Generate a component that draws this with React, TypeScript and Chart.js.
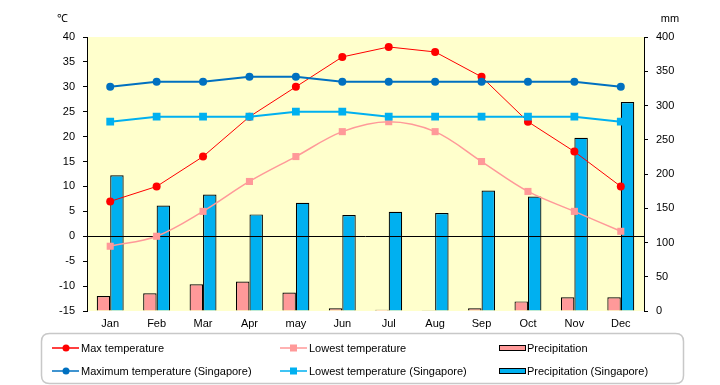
import React, { useEffect, useRef } from 'react';
import { Chart, registerables } from 'chart.js';

Chart.register(...registerables);

const months = ['Jan', 'Feb', 'Mar', 'Apr', 'may', 'Jun', 'Jul', 'Aug', 'Sep', 'Oct', 'Nov', 'Dec'];
const maxTemp = [7, 10, 16, 24, 30, 36, 38, 37, 32, 23, 17, 10];
const lowTemp = [-2, 0, 5, 11, 16, 21, 23, 21, 15, 9, 5, 1];
const precip = [22, 26, 39, 43, 27, 4, 2, 1, 4, 14, 20, 20];
const maxTempSg = [30, 31, 31, 32, 32, 31, 31, 31, 31, 31, 31, 30];
const lowTempSg = [23, 24, 24, 24, 25, 25, 24, 24, 24, 24, 24, 23];
const precipSg = [198, 154, 170, 141, 158, 140, 145, 143, 176, 167, 253, 305];
const tempRange = [-15, 40];
const precipRange = [0, 400];
const tempUnit = '℃';
const precipUnit = 'mm';

const FONT = 'Liberation Sans, Arial, sans-serif';
const C_RED = '#FF0000';
const C_PINK = '#FF9999';
const C_DBLUE = '#0070C0';
const C_LBLUE = '#00B0F0';

const legendItems = [
  { label: 'Max temperature', kind: 'line', color: C_RED, marker: 'circle', col: 0, row: 0 },
  { label: 'Lowest temperature', kind: 'line', color: C_PINK, marker: 'rect', col: 1, row: 0 },
  { label: 'Precipitation', kind: 'bar', color: C_PINK, col: 2, row: 0 },
  { label: 'Maximum temperature (Singapore)', kind: 'line', color: C_DBLUE, marker: 'circle', col: 0, row: 1 },
  { label: 'Lowest temperature (Singapore)', kind: 'line', color: C_LBLUE, marker: 'rect', col: 1, row: 1 },
  { label: 'Precipitation (Singapore)', kind: 'bar', color: C_LBLUE, col: 2, row: 1 },
];

function roundRect(ctx: CanvasRenderingContext2D, x: number, y: number, w: number, h: number, r: number) {
  ctx.beginPath();
  ctx.moveTo(x + r, y);
  ctx.lineTo(x + w - r, y);
  ctx.quadraticCurveTo(x + w, y, x + w, y + r);
  ctx.lineTo(x + w, y + h - r);
  ctx.quadraticCurveTo(x + w, y + h, x + w - r, y + h);
  ctx.lineTo(x + r, y + h);
  ctx.quadraticCurveTo(x, y + h, x, y + h - r);
  ctx.lineTo(x, y + r);
  ctx.quadraticCurveTo(x, y, x + r, y);
  ctx.closePath();
}

const customPlugin = {
  id: 'custom',
  beforeDraw(chart: any) {
    const { ctx, chartArea } = chart;
    ctx.save();
    ctx.fillStyle = '#FFFFCC';
    ctx.fillRect(chartArea.left, chartArea.top, chartArea.right - chartArea.left, chartArea.bottom - chartArea.top);
    ctx.restore();
  },
  afterDatasetDraw(chart: any, args: any) {
    const ds = chart.data.datasets[args.index];
    if (ds.label === 'Precipitation') {
      const { ctx, chartArea } = chart;
      const y = Math.round(chart.scales.y.getPixelForValue(0)) + 0.5;
      ctx.save();
      ctx.strokeStyle = '#000';
      ctx.lineWidth = 1;
      ctx.beginPath();
      ctx.moveTo(chartArea.left, y);
      ctx.lineTo(chartArea.right, y);
      ctx.stroke();
      ctx.restore();
    }
  },
  afterDraw(chart: any) {
    const { ctx } = chart;
    ctx.save();
    ctx.fillStyle = '#000';
    ctx.font = `11px ${FONT}`;
    ctx.textBaseline = 'middle';
    ctx.textAlign = 'center';
    ctx.fillText(tempUnit, 62, 19);
    ctx.fillText(precipUnit, 670, 19);

    // legend box
    ctx.strokeStyle = '#C8C8C8';
    ctx.lineWidth = 1.5;
    roundRect(ctx, 41.5, 333.5, 642, 50, 8);
    ctx.stroke();

    const colX = [52, 280, 499];
    const rowY = [348, 371];
    ctx.textAlign = 'left';
    legendItems.forEach((it) => {
      const x = colX[it.col];
      const y = rowY[it.row];
      if (it.kind === 'line') {
        ctx.strokeStyle = it.color;
        ctx.lineWidth = 1.5;
        ctx.beginPath();
        ctx.moveTo(x, y);
        ctx.lineTo(x + 27, y);
        ctx.stroke();
        ctx.fillStyle = it.color;
        if (it.marker === 'circle') {
          ctx.beginPath();
          ctx.arc(x + 14, y, 3.5, 0, Math.PI * 2);
          ctx.fill();
        } else {
          ctx.fillRect(x + 10, y - 3.5, 7, 7);
        }
        ctx.fillStyle = '#000';
        ctx.fillText(it.label, x + 29, y + 1);
      } else {
        ctx.fillStyle = it.color;
        ctx.fillRect(x, y - 2.5, 26, 5);
        ctx.strokeStyle = '#000';
        ctx.lineWidth = 1;
        ctx.strokeRect(x + 0.5, y - 2.5, 26, 5);
        ctx.fillStyle = '#000';
        ctx.fillText(it.label, x + 28, y + 1);
      }
    });
    ctx.restore();
  },
};

export default function App() {
  const ref = useRef<HTMLCanvasElement>(null);
  useEffect(() => {
    document.body.style.margin = '0';
    const canvas = ref.current;
    if (!canvas) return;
    const tickFont = { family: FONT, size: 11 };
    const chart = new Chart(canvas, {
      type: 'bar',
      data: {
        labels: months,
        datasets: [
          {
            type: 'line', label: 'Maximum temperature (Singapore)', data: maxTempSg, yAxisID: 'y',
            borderColor: C_DBLUE, backgroundColor: C_DBLUE, borderWidth: 2, pointStyle: 'circle',
            pointRadius: 4, pointBorderWidth: 0, tension: 0, order: 1,
          },
          {
            type: 'line', label: 'Lowest temperature (Singapore)', data: lowTempSg, yAxisID: 'y',
            borderColor: C_LBLUE, backgroundColor: C_LBLUE, borderWidth: 2, pointStyle: 'rect',
            pointRadius: 5.5, pointBorderWidth: 0, tension: 0, order: 2,
          },
          {
            type: 'line', label: 'Max temperature', data: maxTemp, yAxisID: 'y',
            borderColor: C_RED, backgroundColor: C_RED, borderWidth: 1, pointStyle: 'circle',
            pointRadius: 4, pointBorderWidth: 0, tension: 0, order: 3,
          },
          {
            type: 'line', label: 'Lowest temperature', data: lowTemp, yAxisID: 'y',
            borderColor: C_PINK, backgroundColor: C_PINK, borderWidth: 1.5, pointStyle: 'rect',
            pointRadius: 5, pointBorderWidth: 0, tension: 0.35, order: 4,
          },
          {
            type: 'bar', label: 'Precipitation', data: precip, yAxisID: 'y2',
            backgroundColor: C_PINK, borderColor: '#000', borderWidth: 1.2,
            barPercentage: 1, categoryPercentage: 0.58, order: 10,
          },
          {
            type: 'bar', label: 'Precipitation (Singapore)', data: precipSg, yAxisID: 'y2',
            backgroundColor: C_LBLUE, borderColor: '#000', borderWidth: 1.2,
            barPercentage: 1, categoryPercentage: 0.58, order: 11,
          },
        ],
      } as any,
      options: {
        animation: false,
        responsive: false,
        devicePixelRatio: 1,
        layout: { padding: { top: 37, left: 0, right: 0, bottom: 0 } },
        plugins: { legend: { display: false }, tooltip: { enabled: false }, title: { display: false } },
        scales: {
          x: {
            grid: { display: false, drawTicks: false },
            border: { display: false },
            ticks: { font: tickFont, color: '#000', padding: 6, maxRotation: 0, autoSkip: false },
            afterFit: (s: any) => { s.height = 74; },
          },
          y: {
            position: 'left',
            min: tempRange[0],
            max: tempRange[1],
            ticks: { stepSize: 5, font: tickFont, color: '#000', padding: 8 },
            grid: { drawOnChartArea: false, drawTicks: true, tickLength: 4, color: '#000', tickColor: '#000' },
            border: { display: true, color: '#000', width: 1 },
            afterFit: (s: any) => { s.width = 87; },
          },
          y2: {
            position: 'right',
            min: precipRange[0],
            max: precipRange[1],
            ticks: { stepSize: 50, font: tickFont, color: '#000', padding: 8 },
            grid: { drawOnChartArea: false, drawTicks: true, tickLength: 4, color: '#000', tickColor: '#000' },
            border: { display: true, color: '#000', width: 1 },
            afterFit: (s: any) => { s.width = 76; },
          },
        },
      } as any,
      plugins: [customPlugin],
    });
    return () => chart.destroy();
  }, []);
  return (
    <div style={{ width: 720, height: 385 }}>
      <canvas ref={ref} width={720} height={385} style={{ display: 'block' }} />
    </div>
  );
}
